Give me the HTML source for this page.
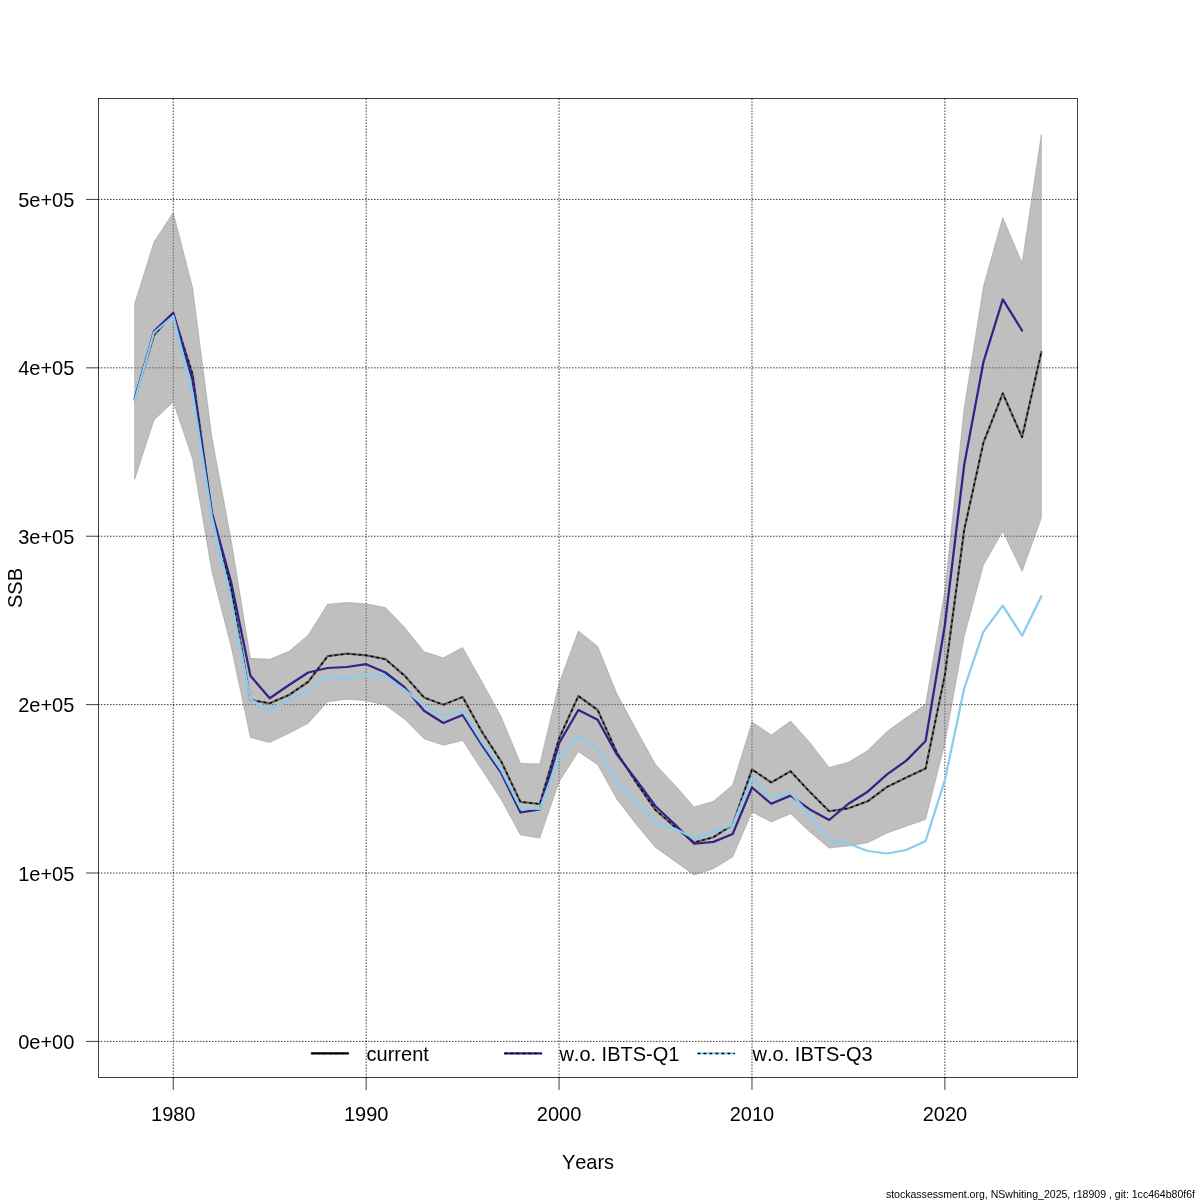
<!DOCTYPE html>
<html><head><meta charset="utf-8"><title>SSB leave-out</title>
<style>
html,body{margin:0;padding:0;background:#fff;}
body{width:1200px;height:1200px;overflow:hidden;}
svg{display:block;will-change:transform;}
text{font-kerning:none;font-family:"Liberation Sans",Arial,Helvetica,sans-serif;font-size:20px;fill:#000;}
</style></head><body>
<svg width="1200" height="1200" viewBox="0 0 1200 1200">
<rect width="1200" height="1200" fill="#fff"/>
<g stroke="#000" stroke-width="0.75" stroke-dasharray="0.75 2.25" stroke-linecap="round" fill="none"><line x1="98.4" y1="1041.40" x2="1077.6" y2="1041.40"/><line x1="98.4" y1="873.01" x2="1077.6" y2="873.01"/><line x1="98.4" y1="704.62" x2="1077.6" y2="704.62"/><line x1="98.4" y1="536.23" x2="1077.6" y2="536.23"/><line x1="98.4" y1="367.84" x2="1077.6" y2="367.84"/><line x1="98.4" y1="199.45" x2="1077.6" y2="199.45"/><line x1="173.25" y1="1077.6" x2="173.25" y2="98.4"/><line x1="366.16" y1="1077.6" x2="366.16" y2="98.4"/><line x1="559.07" y1="1077.6" x2="559.07" y2="98.4"/><line x1="751.98" y1="1077.6" x2="751.98" y2="98.4"/><line x1="944.89" y1="1077.6" x2="944.89" y2="98.4"/></g>
<polygon points="134.67,479.40 153.96,420.00 173.25,402.00 192.54,458.75 211.83,571.50 231.12,646.70 250.42,737.50 269.71,742.50 289.00,733.30 308.29,723.30 327.58,701.70 346.87,699.20 366.16,700.80 385.45,705.20 404.74,719.20 424.03,738.70 443.33,745.30 462.62,740.50 481.91,770.00 501.20,799.60 520.49,835.00 539.78,838.10 559.07,781.80 578.36,751.70 597.65,764.70 616.95,799.40 636.24,824.40 655.53,847.50 674.82,861.25 694.11,875.00 713.40,868.75 732.69,856.90 751.98,811.90 771.27,821.90 790.56,813.75 809.86,831.90 829.15,848.10 848.44,846.00 867.73,842.80 887.02,833.10 906.31,826.25 925.60,819.40 944.89,743.50 964.18,636.50 983.47,565.00 1002.76,531.25 1022.06,571.50 1041.35,518.10 1041.35,134.50 1022.06,263.10 1002.76,217.50 983.47,286.25 964.18,408.00 944.89,590.00 925.60,704.30 906.31,717.50 887.02,731.50 867.73,750.60 848.44,762.20 829.15,767.50 809.86,742.50 790.56,721.00 771.27,735.00 751.98,721.90 732.69,785.00 713.40,801.25 694.11,806.90 674.82,785.00 655.53,764.40 636.24,729.60 616.95,693.75 597.65,646.25 578.36,631.00 559.07,683.30 539.78,764.10 520.49,763.30 501.20,716.80 481.91,681.70 462.62,647.50 443.33,657.80 424.03,651.70 404.74,627.50 385.45,607.60 366.16,603.80 346.87,602.50 327.58,604.20 308.29,635.00 289.00,651.30 269.71,659.20 250.42,658.30 231.12,540.00 211.83,436.50 192.54,287.50 173.25,212.50 153.96,242.00 134.67,303.70" fill="rgba(128,128,128,0.5)" stroke="rgba(128,128,128,0.5)" stroke-width="0.75" stroke-linejoin="round"/>
<polyline points="134.67,398.50 153.96,335.30 173.25,313.50 192.54,374.00 211.83,513.50 231.12,588.00 250.42,700.00 269.71,703.30 289.00,695.00 308.29,681.70 327.58,656.20 346.87,653.70 366.16,655.30 385.45,659.20 404.74,675.80 424.03,697.50 443.33,704.70 462.62,697.00 481.91,731.80 501.20,761.50 520.49,801.90 539.78,804.00 559.07,738.50 578.36,696.00 597.65,710.00 616.95,752.70 636.24,782.50 655.53,810.00 674.82,826.90 694.11,842.50 713.40,837.25 732.69,824.60 751.98,769.40 771.27,782.50 790.56,771.25 809.86,791.90 829.15,811.25 848.44,808.30 867.73,801.25 887.02,786.90 906.31,777.50 925.60,768.50 944.89,675.00 964.18,530.00 983.47,442.50 1002.76,393.30 1022.06,437.20 1041.35,352.00" fill="none" stroke="#606060" stroke-width="2.25" stroke-linejoin="round" stroke-linecap="round"/>
<polyline points="134.67,398.50 153.96,335.30 173.25,313.50 192.54,374.00 211.83,513.50 231.12,588.00 250.42,700.00 269.71,703.30 289.00,695.00 308.29,681.70 327.58,656.20 346.87,653.70 366.16,655.30 385.45,659.20 404.74,675.80 424.03,697.50 443.33,704.70 462.62,697.00 481.91,731.80 501.20,761.50 520.49,801.90 539.78,804.00 559.07,738.50 578.36,696.00 597.65,710.00 616.95,752.70 636.24,782.50 655.53,810.00 674.82,826.90 694.11,842.50 713.40,837.25 732.69,824.60 751.98,769.40 771.27,782.50 790.56,771.25 809.86,791.90 829.15,811.25 848.44,808.30 867.73,801.25 887.02,786.90 906.31,777.50 925.60,768.50 944.89,675.00 964.18,530.00 983.47,442.50 1002.76,393.30 1022.06,437.20 1041.35,352.00" fill="none" stroke="#000" stroke-width="1.5" stroke-dasharray="1.5 4.5" stroke-linejoin="round" stroke-linecap="round"/>
<polyline points="134.67,399.00 153.96,331.40 173.25,312.80 192.54,380.00 211.83,512.50 231.12,582.00 250.42,675.80 269.71,698.30 289.00,685.00 308.29,672.50 327.58,668.00 346.87,667.00 366.16,664.20 385.45,672.50 404.74,687.50 424.03,710.80 443.33,723.00 462.62,715.00 481.91,745.00 501.20,772.90 520.49,812.50 539.78,809.40 559.07,743.20 578.36,710.00 597.65,719.75 616.95,754.60 636.24,780.00 655.53,806.25 674.82,824.40 694.11,843.75 713.40,841.90 732.69,834.00 751.98,787.50 771.27,803.75 790.56,795.60 809.86,809.40 829.15,820.00 848.44,803.75 867.73,791.70 887.02,774.40 906.31,760.60 925.60,741.00 944.89,625.00 964.18,465.00 983.47,362.00 1002.76,299.40 1022.06,330.50" fill="none" stroke="#332288" stroke-width="2.25" stroke-linejoin="round" stroke-linecap="round"/>
<polyline points="134.67,400.50 153.96,332.50 173.25,316.00 192.54,392.80 211.83,516.50 231.12,600.00 250.42,699.20 269.71,710.80 289.00,699.20 308.29,690.80 327.58,675.80 346.87,679.20 366.16,675.00 385.45,675.80 404.74,690.00 424.03,705.30 443.33,715.80 462.62,711.20 481.91,742.20 501.20,770.00 520.49,808.50 539.78,809.00 559.07,756.80 578.36,735.40 597.65,749.00 616.95,781.25 636.24,802.30 655.53,823.10 674.82,828.75 694.11,838.10 713.40,831.90 732.69,825.00 751.98,778.10 771.27,797.50 790.56,793.10 809.86,815.00 829.15,839.40 848.44,843.75 867.73,851.00 887.02,853.50 906.31,850.00 925.60,841.00 944.89,780.00 964.18,688.50 983.47,631.60 1002.76,605.70 1022.06,635.75 1041.35,596.20" fill="none" stroke="#88CCEE" stroke-width="2.25" stroke-linejoin="round" stroke-linecap="round"/>
<g stroke="#000" stroke-width="0.75" fill="none" stroke-linecap="round">
<rect x="98.4" y="98.4" width="979.20" height="979.20"/>
<line x1="86.4" y1="1041.40" x2="98.4" y2="1041.40"/><line x1="86.4" y1="873.01" x2="98.4" y2="873.01"/><line x1="86.4" y1="704.62" x2="98.4" y2="704.62"/><line x1="86.4" y1="536.23" x2="98.4" y2="536.23"/><line x1="86.4" y1="367.84" x2="98.4" y2="367.84"/><line x1="86.4" y1="199.45" x2="98.4" y2="199.45"/><line x1="173.25" y1="1077.6" x2="173.25" y2="1089.6"/><line x1="366.16" y1="1077.6" x2="366.16" y2="1089.6"/><line x1="559.07" y1="1077.6" x2="559.07" y2="1089.6"/><line x1="751.98" y1="1077.6" x2="751.98" y2="1089.6"/><line x1="944.89" y1="1077.6" x2="944.89" y2="1089.6"/>
</g>
<g><text transform="translate(74.30,1048.90) scale(1,1.05)" text-anchor="end">0e+00</text><text transform="translate(74.30,880.51) scale(1,1.05)" text-anchor="end">1e+05</text><text transform="translate(74.30,712.12) scale(1,1.05)" text-anchor="end">2e+05</text><text transform="translate(74.30,543.73) scale(1,1.05)" text-anchor="end">3e+05</text><text transform="translate(74.30,375.34) scale(1,1.05)" text-anchor="end">4e+05</text><text transform="translate(74.30,206.95) scale(1,1.05)" text-anchor="end">5e+05</text><text transform="translate(173.25,1121.00) scale(1,1.05)" text-anchor="middle">1980</text><text transform="translate(366.16,1121.00) scale(1,1.05)" text-anchor="middle">1990</text><text transform="translate(559.07,1121.00) scale(1,1.05)" text-anchor="middle">2000</text><text transform="translate(751.98,1121.00) scale(1,1.05)" text-anchor="middle">2010</text><text transform="translate(944.89,1121.00) scale(1,1.05)" text-anchor="middle">2020</text></g>
<text transform="translate(588.00,1169.00) scale(1,1.05)" text-anchor="middle">Years</text>
<text transform="translate(22.00,588.00) rotate(-90) scale(1,1.05)" text-anchor="middle">SSB</text>
<g fill="none" stroke-linecap="round" stroke-width="2.25">
<line x1="311.9" y1="1053.45" x2="348" y2="1053.45" stroke="#000"/>
<line x1="505" y1="1053.45" x2="541.1" y2="1053.45" stroke="#332288"/>
<line x1="698.1" y1="1053.45" x2="734.2" y2="1053.45" stroke="#88CCEE"/>
<g stroke="#000" stroke-width="1.5" stroke-dasharray="1.5 4.5">
<line x1="311.9" y1="1053.45" x2="348" y2="1053.45"/>
<line x1="505" y1="1053.45" x2="541.1" y2="1053.45"/>
<line x1="698.1" y1="1053.45" x2="734.2" y2="1053.45"/>
</g></g>
<text transform="translate(366.60,1060.70) scale(1,1.05)" text-anchor="start">current</text>
<text transform="translate(559.40,1060.70) scale(1,1.05)" text-anchor="start">w.o. IBTS-Q1</text>
<text transform="translate(752.60,1060.70) scale(1,1.05)" text-anchor="start">w.o. IBTS-Q3</text>
<text transform="translate(1195.00,1197.80) scale(1,1.05)" text-anchor="end" style="font-size:10.54px">stockassessment.org, NSwhiting_2025, r18909 , git: 1cc464b80f6f</text>
</svg>
</body></html>
